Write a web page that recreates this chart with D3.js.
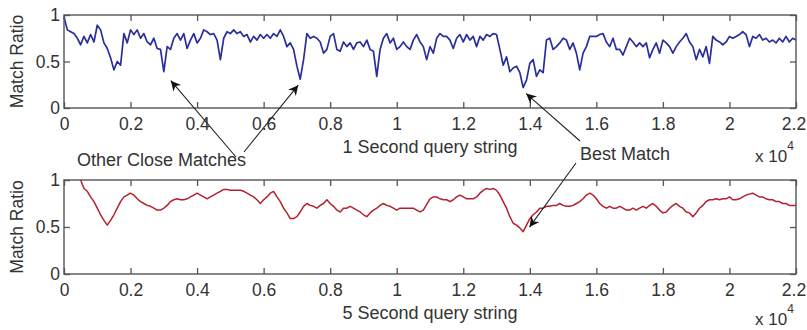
<!DOCTYPE html>
<html>
<head>
<meta charset="utf-8">
<script src="https://cdn.jsdelivr.net/npm/d3@7"></script>
<style>
  html, body { margin: 0; padding: 0; background: #fff; }
  svg { display: block; font-family: "Liberation Sans", Arial, sans-serif; }
</style>
</head>
<body>
<svg id="chart" width="807" height="330"></svg>
<script>
// x positions in units of 10^4 samples
const topStart = 0.00, topStep = 0.01;
const topValues = [
 0.98,0.84,0.82,0.80,0.75,0.68,0.77,0.70,0.79,0.71,
 0.89,0.84,0.70,0.64,0.54,0.41,0.50,0.46,0.80,0.70,
 0.84,0.79,0.84,0.75,0.80,0.71,0.68,0.75,0.64,0.63,
 0.39,0.66,0.63,0.75,0.80,0.73,0.80,0.64,0.73,0.80,
 0.70,0.75,0.84,0.82,0.79,0.80,0.73,0.52,0.75,0.82,
 0.80,0.84,0.80,0.82,0.77,0.79,0.71,0.77,0.73,0.79,
 0.75,0.79,0.75,0.80,0.77,0.84,0.77,0.66,0.70,0.63,
 0.45,0.31,0.52,0.80,0.75,0.77,0.75,0.71,0.59,0.63,
 0.77,0.80,0.63,0.61,0.71,0.66,0.70,0.63,0.70,0.71,
 0.66,0.73,0.63,0.61,0.34,0.63,0.75,0.80,0.70,0.75,
 0.63,0.66,0.71,0.66,0.63,0.73,0.79,0.71,0.66,0.52,
 0.66,0.59,0.75,0.80,0.77,0.77,0.73,0.64,0.75,0.79,
 0.71,0.79,0.73,0.77,0.66,0.77,0.73,0.79,0.77,0.80,
 0.79,0.63,0.46,0.55,0.39,0.43,0.45,0.38,0.22,0.30,
 0.48,0.52,0.34,0.41,0.38,0.73,0.75,0.63,0.66,0.70,
 0.75,0.73,0.63,0.70,0.59,0.41,0.59,0.66,0.77,0.77,
 0.77,0.79,0.80,0.71,0.66,0.75,0.63,0.63,0.57,0.66,
 0.75,0.71,0.66,0.70,0.66,0.70,0.54,0.63,0.70,0.59,
 0.73,0.70,0.66,0.59,0.66,0.71,0.75,0.80,0.71,0.66,
 0.52,0.63,0.55,0.66,0.48,0.77,0.73,0.71,0.68,0.71,
 0.77,0.75,0.77,0.79,0.82,0.79,0.66,0.77,0.75,0.79,
 0.73,0.75,0.71,0.73,0.70,0.75,0.71,0.77,0.71,0.75,
 0.73
];
const bottomStart = 0.05, bottomStep = 0.01;
const bottomValues = [
 1.00,0.91,0.88,0.82,0.77,0.70,0.63,0.57,0.52,0.57,
 0.63,0.70,0.77,0.82,0.84,0.86,0.84,0.80,0.77,0.75,
 0.73,0.72,0.70,0.68,0.68,0.70,0.73,0.77,0.79,0.80,
 0.79,0.79,0.80,0.82,0.84,0.86,0.84,0.82,0.80,0.82,
 0.84,0.86,0.88,0.90,0.90,0.89,0.89,0.89,0.89,0.88,
 0.86,0.84,0.82,0.79,0.75,0.79,0.82,0.86,0.88,0.82,
 0.77,0.70,0.65,0.59,0.59,0.61,0.66,0.72,0.75,0.73,
 0.72,0.70,0.73,0.75,0.79,0.75,0.72,0.68,0.66,0.70,
 0.70,0.72,0.70,0.68,0.66,0.63,0.61,0.65,0.68,0.70,
 0.73,0.75,0.73,0.72,0.70,0.68,0.70,0.70,0.70,0.70,
 0.70,0.68,0.66,0.68,0.74,
 0.80,0.82,0.82,0.80,0.79,0.79,0.77,0.79,0.82,0.84,
 0.82,0.80,0.80,0.80,0.82,0.86,0.89,0.91,0.90,0.91,
 0.89,0.84,0.77,0.70,0.61,0.54,0.52,0.49,0.45,0.52,
 0.59,0.63,0.66,0.70,0.70,0.72,0.72,0.73,0.73,0.75,
 0.73,0.72,0.72,0.73,0.75,0.77,0.80,0.84,0.86,0.84,
 0.80,0.75,0.72,0.70,0.72,0.70,0.70,0.72,0.70,0.68,
 0.68,0.70,0.68,0.70,0.72,0.70,0.73,0.75,0.72,0.68,
 0.65,0.66,0.70,0.73,0.75,0.72,0.70,0.66,0.65,0.61,
 0.65,0.70,0.73,0.77,0.79,0.79,0.80,0.79,0.80,0.80,
 0.82,0.79,0.79,0.80,0.82,0.84,0.85,0.86,0.84,0.82,
 0.82,0.80,0.79,0.79,0.77,0.77,0.75,0.75,0.73,0.73,
 0.73
];
const xTicks = [0,0.2,0.4,0.6,0.8,1,1.2,1.4,1.6,1.8,2,2.2];
const yTicks = [0,0.5,1];
const xLabels = ["1 Second query string", "5 Second query string"];
const yLabel = "Match Ratio";
const exponentBase = "x 10", exponent = "4";
const annotations = [
  { text: "Other Close Matches" },
  { text: "Best Match" }
];

const svg = d3.select("#chart");
const plotL = 64, plotR = 796;
const panels = [
  { top: 15, bottom: 108, values: topValues, start: topStart, step: topStep, color: "#2a2e9c", width: 1.7, xlabel: xLabels[0], expY: 162 },
  { top: 180, bottom: 274, values: bottomValues, start: bottomStart, step: bottomStep, color: "#b5202e", width: 1.5, xlabel: xLabels[1], expY: 325 }
];

const x = d3.scaleLinear().domain([0, 2.2]).range([plotL, plotR]);
const fmt = d => String(+d.toFixed(1));
const textColor = "#333";
const axisColor = "#555";

panels.forEach((p, i) => {
  const y = d3.scaleLinear().domain([0, 1]).range([p.bottom, p.top]);
  const g = svg.append("g");

  const line = d3.line()
    .x((d, k) => x(p.start + k * p.step))
    .y(d => y(d));
  g.append("path")
    .datum(p.values)
    .attr("fill", "none")
    .attr("stroke", p.color)
    .attr("stroke-width", p.width)
    .attr("stroke-linejoin", "round")
    .attr("d", line);

  const ax = [
    g.append("g").attr("transform", `translate(0,${p.bottom})`)
      .call(d3.axisBottom(x).tickValues(xTicks).tickFormat(fmt).tickSizeInner(-6).tickSizeOuter(0).tickPadding(10)),
    g.append("g").attr("transform", `translate(0,${p.top})`)
      .call(d3.axisTop(x).tickValues(xTicks).tickFormat("").tickSizeInner(-6).tickSizeOuter(0)),
    g.append("g").attr("transform", `translate(${plotL},0)`)
      .call(d3.axisLeft(y).tickValues(yTicks).tickFormat(fmt).tickSizeInner(-6).tickSizeOuter(0).tickPadding(4)),
    g.append("g").attr("transform", `translate(${plotR},0)`)
      .call(d3.axisRight(y).tickValues(yTicks).tickFormat("").tickSizeInner(-6).tickSizeOuter(0))
  ];
  ax.forEach(a => {
    a.select(".domain").remove();
    a.selectAll("line").attr("stroke", axisColor).attr("stroke-width", 1.3);
    a.selectAll("text").attr("fill", textColor).style("font-size", "17.5px").style("font-family", "'Liberation Sans', Arial, sans-serif");
  });
  // keep the last x tick label inside the frame
  ax[0].selectAll(".tick text").filter(d => d === 2.2).attr("dx", "-2.5");

  g.append("rect")
    .attr("x", plotL).attr("y", p.top)
    .attr("width", plotR - plotL).attr("height", p.bottom - p.top)
    .attr("fill", "none").attr("stroke", axisColor).attr("stroke-width", 1.4);

  g.append("text")
    .attr("transform", `translate(23,${(p.top + p.bottom) / 2}) rotate(-90)`)
    .attr("text-anchor", "middle")
    .attr("fill", textColor)
    .style("font-size", "17.5px")
    .text(yLabel);

  g.append("text")
    .attr("x", (plotL + plotR) / 2).attr("y", p.bottom + 45)
    .attr("text-anchor", "middle")
    .attr("fill", textColor)
    .style("font-size", "18px")
    .text(p.xlabel);

  const e = g.append("text").attr("x", 755).attr("y", p.expY).attr("fill", textColor).style("font-size", "17px");
  e.append("tspan").text(exponentBase);
  e.append("tspan").attr("dy", -12).style("font-size", "12px").text(exponent);
});

const defs = svg.append("defs");
defs.append("marker")
  .attr("id", "ah").attr("viewBox", "0 0 10 10")
  .attr("refX", 10).attr("refY", 5)
  .attr("markerWidth", 15).attr("markerHeight", 10)
  .attr("markerUnits", "userSpaceOnUse")
  .attr("orient", "auto")
  .append("path").attr("d", "M0,0 L10,5 L0,10 L3,5 Z").attr("fill", "#111");

const yT = d3.scaleLinear().domain([0, 1]).range([108, 15]);
const yB = d3.scaleLinear().domain([0, 1]).range([274, 180]);
const arrows = [
  { x1: 236, y1: 157, x2: x(0.30) + 7, y2: yT(0.39) + 9 },
  { x1: 244, y1: 152, x2: x(0.71) - 2, y2: yT(0.31) + 6 },
  { x1: 580, y1: 141, x2: x(1.38) + 3, y2: yT(0.22) + 6 },
  { x1: 576, y1: 163, x2: x(1.39) + 3, y2: yB(0.52) + 2 }
];
svg.append("g").selectAll("line").data(arrows).join("line")
  .attr("x1", d => d.x1).attr("y1", d => d.y1)
  .attr("x2", d => d.x2).attr("y2", d => d.y2)
  .attr("stroke", "#222").attr("stroke-width", 1.1)
  .attr("marker-end", "url(#ah)");

svg.append("text").attr("x", 77).attr("y", 166).attr("fill", textColor).style("font-size", "18px").text(annotations[0].text);
svg.append("text").attr("x", 580).attr("y", 160).attr("fill", textColor).style("font-size", "18px").text(annotations[1].text);
</script>
</body>
</html>
